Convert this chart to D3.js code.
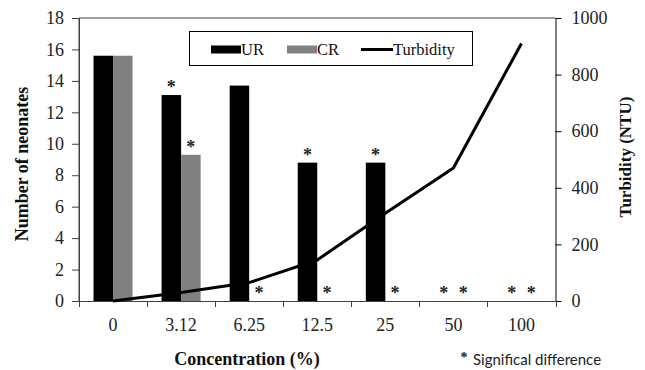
<!DOCTYPE html>
<html>
<head>
<meta charset="utf-8">
<script src="https://cdn.jsdelivr.net/npm/d3@7"></script>
<style>
  html, body { margin: 0; padding: 0; background: #fff; }
  svg { display: block; }
</style>
</head>
<body>
<svg id="chart" width="645" height="370"></svg>
<script>
// Concentrations tested (x categories)
const categories = ["0", "3.12", "6.25", "12.5", "25", "50", "100"];
// Series shown as bars
const seriesNames = ["UR", "CR"];
// Number of neonates per concentration
const urValues = [15.6, 13.1, 13.7, 8.8, 8.8, 0, 0];
const crValues = [15.6, 9.3, 0, 0, 0, 0, 0];
// Turbidity (NTU) per concentration
const turbidity = [0, 30, 65, 145, 310, 470, 910];
// Significant differences: [category, series]
const significance = [
  ["3.12", "UR"], ["3.12", "CR"], ["6.25", "CR"],
  ["12.5", "UR"], ["12.5", "CR"], ["25", "UR"], ["25", "CR"],
  ["50", "UR"], ["50", "CR"], ["100", "UR"], ["100", "CR"]
];
// Axis ticks
const leftTicks = [0, 2, 4, 6, 8, 10, 12, 14, 16, 18];
const rightTicks = [0, 200, 400, 600, 800, 1000];

const svg = d3.select("#chart");
const serif = "'Liberation Serif', 'Times New Roman', serif";

const m = { left: 79, right: 555.5, top: 18, bottom: 301 };

const x0 = d3.scaleBand().domain(categories).range([m.left, m.right]).padding(0);
const x1 = d3.scaleBand().domain(seriesNames).range([0, x0.bandwidth()])
  .paddingInner(0).paddingOuter(0.744);
const y = d3.scaleLinear().domain([0, 18]).range([m.bottom, m.top]);
const yR = d3.scaleLinear().domain([0, 1000]).range([m.bottom, m.top]);

const valuesBy = { UR: urValues, CR: crValues };
const colors = { UR: "#000000", CR: "#808080" };

// Bars
const barData = [];
categories.forEach((c, i) => seriesNames.forEach(s => barData.push({ c, s, v: valuesBy[s][i] })));
svg.append("g").selectAll("rect").data(barData.filter(d => d.v > 0)).join("rect")
  .attr("x", d => x0(d.c) + x1(d.s))
  .attr("y", d => y(d.v))
  .attr("width", x1.bandwidth())
  .attr("height", d => y(0) - y(d.v))
  .attr("fill", d => colors[d.s]);

// Frame
svg.append("path")
  .attr("d", `M${m.left},${m.bottom}V${m.top}H${m.right}`)
  .attr("fill", "none").attr("stroke", "#404040").attr("stroke-width", 1);
svg.append("line")
  .attr("x1", m.left).attr("x2", m.right).attr("y1", m.bottom + 0.5).attr("y2", m.bottom + 0.5)
  .attr("stroke", "#404040");

// Left axis
const gl = svg.append("g").attr("transform", `translate(${m.left},0)`)
  .call(d3.axisLeft(y).tickValues(leftTicks).tickSize(7).tickPadding(8).tickSizeOuter(0));
gl.select(".domain").attr("stroke", "#404040");
gl.selectAll(".tick line").attr("stroke", "#404040");
gl.selectAll("text").attr("font-family", serif).attr("font-size", 18).attr("fill", "#222");

// Right axis
const gr = svg.append("g").attr("transform", `translate(${m.right},0)`)
  .call(d3.axisRight(yR).tickValues(rightTicks).tickFormat(d3.format("d"))
    .tickSize(6).tickPadding(10).tickSizeOuter(0));
gr.select(".domain").attr("stroke", "#000");
gr.selectAll("text").attr("font-family", serif).attr("font-size", 18).attr("fill", "#222");

// Bottom axis: labels centred in bands, ticks on band edges
const gb = svg.append("g").attr("transform", `translate(0,${m.bottom})`)
  .call(d3.axisBottom(x0).tickSize(0).tickPadding(17));
gb.select(".domain").remove();
gb.selectAll("text").attr("font-family", serif).attr("font-size", 18).attr("fill", "#222");
const edges = categories.map(c => x0(c)).concat([x0.range()[1]]);
svg.append("g").selectAll("line").data(edges).join("line")
  .attr("x1", d => Math.round(d) + 0.5).attr("x2", d => Math.round(d) + 0.5)
  .attr("y1", m.bottom).attr("y2", m.bottom + 6)
  .attr("stroke", "#404040");

// Turbidity line
const line = d3.line()
  .x((d, i) => x0(categories[i]) + x0.bandwidth() / 2)
  .y(d => yR(d));
svg.append("path").datum(turbidity)
  .attr("d", line)
  .attr("fill", "none").attr("stroke", "#000").attr("stroke-width", 3)
  .attr("stroke-linejoin", "round");

// Significance markers
svg.append("g").selectAll("text").data(significance).join("text")
  .attr("x", d => x0(d[0]) + x1(d[1]) + x1.bandwidth() / 2)
  .attr("y", d => y(valuesBy[d[1]][categories.indexOf(d[0])]) - 2)
  .attr("text-anchor", "middle")
  .attr("font-family", serif).attr("font-weight", "bold").attr("font-size", 18)
  .attr("fill", "#222")
  .text("*");

// Legend
const lg = svg.append("g");
lg.append("rect").attr("x", 189.5).attr("y", 31.5).attr("width", 283).attr("height", 34)
  .attr("fill", "#fff").attr("stroke", "#000");
const legendItems = [
  { name: "UR", type: "bar", x: 211 },
  { name: "CR", type: "bar", x: 287 },
  { name: "Turbidity", type: "line", x: 361 }
];
legendItems.forEach(it => {
  if (it.type === "bar") {
    lg.append("rect").attr("x", it.x).attr("y", 45.5).attr("width", 30).attr("height", 8)
      .attr("fill", colors[it.name]);
  } else {
    lg.append("line").attr("x1", it.x).attr("x2", it.x + 32).attr("y1", 49.5).attr("y2", 49.5)
      .attr("stroke", "#000").attr("stroke-width", 3);
  }
  lg.append("text").attr("x", it.x + (it.type === "bar" ? 30 : 32)).attr("y", 55)
    .attr("font-family", serif).attr("font-size", 16.5).attr("fill", "#111")
    .text(it.name);
});

// Axis titles
svg.append("text")
  .attr("transform", "translate(28,164) rotate(-90)")
  .attr("text-anchor", "middle")
  .attr("font-family", serif).attr("font-weight", "bold").attr("font-size", 18).attr("fill", "#111")
  .text("Number of neonates");
svg.append("text")
  .attr("transform", "translate(631,157) rotate(-90)")
  .attr("text-anchor", "middle")
  .attr("font-family", serif).attr("font-weight", "bold").attr("font-size", 17).attr("fill", "#111")
  .text("Turbidity (NTU)");
svg.append("text")
  .attr("x", 247).attr("y", 365)
  .attr("text-anchor", "middle")
  .attr("font-family", serif).attr("font-weight", "bold").attr("font-size", 18).attr("fill", "#111")
  .text("Concentration (%)");

// Footnote
svg.append("text").attr("x", 464).attr("y", 362).attr("text-anchor", "middle")
  .attr("font-family", serif).attr("font-weight", "bold").attr("font-size", 14).attr("fill", "#222")
  .text("*");
svg.append("text").attr("x", 473).attr("y", 365)
  .attr("font-family", "Lato, 'Open Sans', sans-serif").attr("font-size", 15).attr("fill", "#222")
  .text("Significal difference");
</script>
</body>
</html>
